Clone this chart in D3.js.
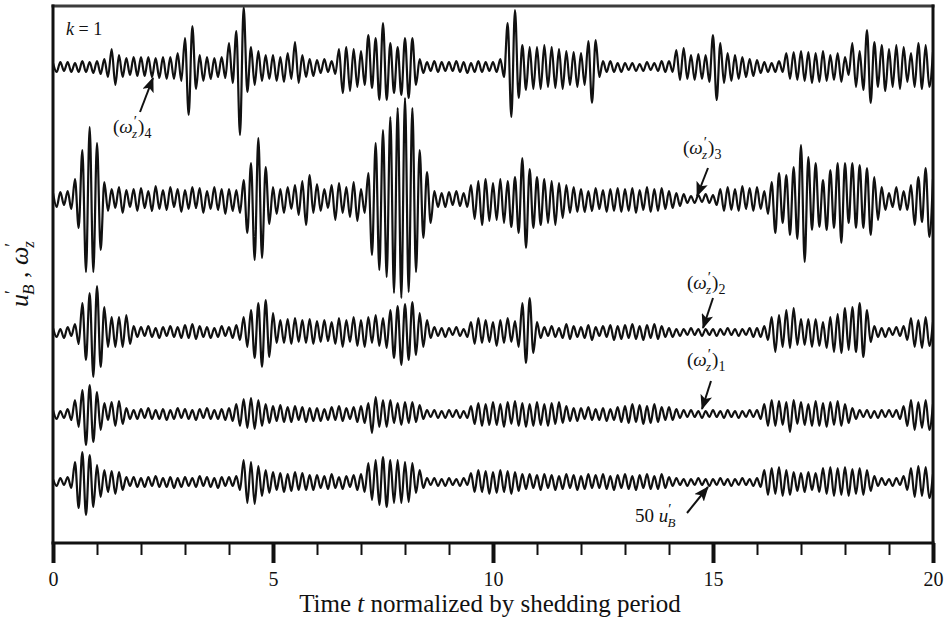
<!DOCTYPE html>
<html><head><meta charset="utf-8">
<script src="https://cdn.jsdelivr.net/npm/d3@7"></script>
<style>
body{margin:0;background:#fff}
svg{display:block}
text{font-family:"Liberation Serif","Times New Roman",Times,"DejaVu Serif",serif;fill:#111}
</style>
</head><body>
<svg id="chart" width="950" height="621"></svg>
<script>
// ---- data (signed extrema; 12 samples per shedding period) ----
const tDomain = [0, 20];
const majorTicks = [0, 5, 10, 15, 20];
const minorTicks = [1, 2, 3, 4, 6, 7, 8, 9, 11, 12, 13, 14, 16, 17, 18, 19];

const omega4 = [
 4,-5,5,-4,5,-5,4,-5,6,-5,5,-6,
 6,-7,8,-10,18,-18,12,-10,9,-8,10,-9,
 10,-9,10,-10,9,-11,10,-12,10,-12,14,-14,
 29,-48,41,-22,12,-14,10,-12,9,-10,10,-11,
 24,-16,36,-68,60,-25,20,-18,16,-14,12,-12,
 12,-14,10,-15,14,-12,25,-16,12,-10,8,-9,
 7,-6,8,-5,6,-7,18,-26,20,-24,18,-20,
 16,-18,32,-21,29,-33,44,-33,24,-26,20,-28,
 29,-31,29,-18,8,-6,5,-4,6,-5,5,-4,
 5,-4,6,-5,5,-6,4,-5,6,-5,5,-4,
 5,-5,8,-10,44,-50,57,-31,22,-23,20,-22,
 20,-22,22,-20,20,-21,18,-22,16,-18,15,-20,
 14,-18,26,-36,27,-10,6,-5,6,-5,4,-5,
 4,-3,4,-4,3,-4,5,-3,4,-4,6,-5,
 6,-5,17,-13,19,-12,12,-13,13,-12,12,-15,
 32,-33,24,-16,14,-14,12,-12,10,-10,8,-9,
 7,-6,5,-5,4,-5,6,-5,14,-12,15,-13,
 16,-14,15,-16,14,-15,16,-14,12,-13,14,-15,
 10,-8,24,-20,16,-23,37,-36,25,-20,22,-24,
 18,-20,22,-22,20,-15,14,-20,24,-22,22,-20,
 15];

const omega3 = [
 6,-8,7,-6,8,-10,20,-29,49,-73,72,-73,
 56,-51,17,-12,10,-9,12,-14,9,-8,10,-12,
 11,-9,8,-12,13,-10,9,-11,12,-8,10,-13,
 9,-10,12,-9,11,-14,8,-10,12,-11,10,-15,
 10,-12,9,-14,19,-34,36,-61,61,-59,32,-25,
 12,-15,10,-14,12,-10,14,-16,18,-26,24,-14,
 15,-12,10,-9,14,-21,16,-14,12,-18,17,-22,
 10,-14,26,-56,56,-71,69,-78,82,-94,91,-99,
 101,-93,91,-73,49,-39,27,-24,8,-8,6,-8,
 7,-6,8,-7,6,-8,14,-20,18,-26,20,-22,
 16,-21,20,-24,18,-28,22,-34,41,-49,30,-29,
 22,-26,20,-24,18,-26,16,-19,14,-14,12,-13,
 10,-13,8,-12,11,-10,9,-13,10,-12,11,-13,
 10,-12,11,-14,9,-11,12,-13,10,-12,11,-10,
 8,-9,6,-7,5,-4,3,-4,4,-3,5,-4,
 4,-6,10,-12,12,-11,10,-12,13,-10,11,-12,
 12,-10,8,-15,17,-34,26,-24,24,-36,32,-40,
 54,-63,42,-31,36,-28,19,-31,29,-29,36,-44,
 36,-24,36,-29,34,-29,31,-36,22,-21,12,-11,
 6,-8,12,-11,8,-11,14,-26,22,-23,31,-38,
 20];

const omega2 = [
 4,-5,3,-6,5,-4,8,-12,29,-28,39,-45,
 46,-35,25,-15,15,-15,15,-15,17,-12,6,-5,
 5,-4,6,-5,4,-6,5,-4,6,-5,5,-6,
 7,-6,8,-7,6,-5,5,-6,4,-5,6,-4,
 5,-6,7,-8,15,-15,22,-26,29,-35,32,-25,
 19,-11,12,-11,13,-12,14,-10,12,-11,13,-12,
 11,-10,12,-9,10,-12,14,-15,12,-10,15,-14,
 12,-15,15,-11,17,-14,14,-16,22,-26,26,-33,
 28,-28,30,-23,19,-15,12,-6,5,-4,4,-5,
 4,-3,5,-4,3,-5,10,-12,14,-11,12,-10,
 10,-14,12,-11,14,-10,11,-15,29,-31,34,-21,
 10,-6,5,-4,6,-5,4,-6,8,-7,6,-5,
 5,-6,7,-8,5,-4,6,-5,7,-8,6,-7,
 7,-6,8,-7,6,-8,7,-6,8,-7,6,-5,
 4,-5,3,-4,3,-3,4,-3,3,-4,3,-3,
 3,-4,3,-3,4,-3,3,-4,3,-3,4,-5,
 4,-5,6,-8,15,-20,17,-15,22,-16,24,-13,
 13,-13,13,-15,13,-14,10,-16,15,-20,18,-21,
 24,-18,25,-20,29,-25,22,-10,6,-5,4,-5,
 4,-3,5,-4,6,-8,14,-15,12,-16,15,-14,
 10];

const omega1 = [
 4,-5,3,-4,5,-6,14,-13,24,-31,29,-28,
 22,-16,11,-6,12,-12,13,-10,6,-5,4,-5,
 5,-4,6,-5,4,-5,5,-6,4,-5,6,-4,
 5,-5,4,-6,5,-4,6,-5,4,-5,5,-6,
 6,-7,10,-12,15,-14,16,-15,14,-12,10,-9,
 8,-7,9,-8,7,-8,8,-6,7,-8,6,-7,
 6,-7,5,-6,7,-6,8,-7,6,-5,7,-8,
 8,-9,11,-19,17,-13,14,-13,14,-9,11,-11,
 12,-9,12,-8,9,-5,4,-3,4,-4,3,-4,
 4,-3,4,-4,3,-4,8,-10,11,-12,10,-11,
 12,-11,10,-13,12,-10,13,-12,11,-13,10,-12,
 12,-11,10,-12,11,-10,12,-9,8,-7,6,-7,
 6,-5,7,-6,5,-6,6,-7,5,-6,7,-8,
 8,-9,10,-8,9,-10,8,-9,10,-8,7,-6,
 7,-6,5,-4,4,-3,4,-3,3,-4,3,-3,
 4,-3,3,-4,4,-3,3,-4,3,-3,4,-3,
 4,-5,10,-12,14,-12,13,-11,12,-18,14,-10,
 12,-11,10,-12,13,-12,11,-13,12,-11,13,-12,
 10,-9,6,-5,4,-3,4,-4,3,-4,4,-3,
 4,-3,4,-5,8,-12,14,-16,12,-14,14,-16,
 10];

const uB50 = [
 3,-4,4,-3,5,-6,20,-26,30,-33,27,-25,
 17,-15,12,-10,11,-12,10,-8,5,-4,5,-5,
 4,-5,5,-4,6,-5,4,-5,5,-6,4,-5,
 5,-4,4,-5,6,-4,5,-5,4,-6,5,-4,
 5,-4,6,-8,22,-21,20,-22,16,-14,12,-11,
 10,-8,9,-10,8,-9,10,-8,9,-8,7,-8,
 7,-6,6,-7,8,-6,5,-7,6,-5,7,-8,
 8,-10,19,-18,22,-23,25,-25,22,-21,22,-21,
 20,-20,19,-11,12,-6,4,-3,4,-4,3,-4,
 4,-3,3,-4,4,-3,9,-10,12,-10,11,-12,
 10,-11,12,-10,11,-12,10,-9,8,-7,8,-6,
 7,-8,8,-6,7,-8,6,-7,8,-6,7,-8,
 6,-7,8,-6,7,-6,8,-7,6,-8,7,-6,
 8,-7,6,-8,7,-6,8,-7,6,-7,8,-6,
 5,-4,4,-3,3,-4,3,-3,4,-3,3,-4,
 3,-3,4,-3,3,-4,3,-3,4,-3,3,-4,
 4,-5,12,-13,14,-12,15,-14,12,-13,10,-9,
 9,-10,10,-8,9,-10,14,-12,15,-14,14,-13,
 15,-14,13,-12,14,-13,12,-9,6,-4,4,-3,
 3,-4,4,-3,6,-8,14,-15,16,-14,15,-16,
 8];

// ---- layout ----
const svg = d3.select("#chart");
const L = 53, R = 933, T = 6, B = 543;
const x = d3.scaleLinear().domain(tDomain).range([L, R]);
const amp = d3.scaleLinear().domain([-100, 100]).range([100, -100]);

const traces = [
  {values: omega4, base: 67},
  {values: omega3, base: 199},
  {values: omega2, base: 332},
  {values: omega1, base: 414},
  {values: uB50, base: 482}
];

const defs = svg.append("defs");
defs.append("clipPath").attr("id", "plotclip").append("rect")
  .attr("x", L).attr("y", T).attr("width", R - L).attr("height", B - T);
defs.append("marker").attr("id", "ah").attr("viewBox", "0 0 15 12")
  .attr("refX", 14).attr("refY", 6).attr("markerWidth", 15).attr("markerHeight", 12)
  .attr("markerUnits", "userSpaceOnUse").attr("orient", "auto")
  .append("path").attr("d", "M0,0 L15,6 L0,12 L3.5,6 Z").attr("fill", "#111");

const line = d3.line().curve(d3.curveMonotoneX);
const plot = svg.append("g").attr("clip-path", "url(#plotclip)");
traces.forEach(tr => {
  const n = tr.values.length;
  const dt = (tDomain[1] - tDomain[0]) / (n - 1);
  plot.append("path")
    .attr("transform", `translate(0,${tr.base})`)
    .attr("d", line(tr.values.map((v, i) => [x(i * dt), amp(v)])))
    .attr("fill", "none").attr("stroke", "#111").attr("stroke-width", 2.2)
    .attr("stroke-linejoin", "round");
});

// frame
svg.append("line").attr("x1", L - 1.5).attr("x2", R + 1.5).attr("y1", T).attr("y2", T)
  .attr("stroke", "#3c3c3c").attr("stroke-width", 3);
svg.append("line").attr("x1", L).attr("x2", L).attr("y1", T - 1.5).attr("y2", B)
  .attr("stroke", "#111").attr("stroke-width", 3);
svg.append("line").attr("x1", R).attr("x2", R).attr("y1", T - 1.5).attr("y2", B)
  .attr("stroke", "#111").attr("stroke-width", 3);

// axes
const minorAxis = d3.axisBottom(x).tickValues(minorTicks).tickSize(12).tickSizeOuter(0).tickFormat("");
const gMinor = svg.append("g").attr("transform", `translate(0,${B})`).call(minorAxis);
gMinor.select(".domain").remove();
gMinor.selectAll(".tick line").attr("stroke", "#111").attr("stroke-width", 2);

const majorAxis = d3.axisBottom(x).tickValues(majorTicks).tickSize(20).tickSizeOuter(0).tickPadding(9).tickFormat(d3.format("d"));
const gMajor = svg.append("g").attr("transform", `translate(0,${B})`).call(majorAxis);
gMajor.attr("font-family", null);
gMajor.select(".domain").attr("stroke", "#111").attr("stroke-width", 3).attr("d", `M${L - 1.5},0H${R + 1.5}`);
gMajor.selectAll(".tick line").attr("stroke", "#111").attr("stroke-width", 4);
gMajor.selectAll(".tick text").attr("font-size", 20).attr("fill", "#111");

// x title
const xt = svg.append("text").attr("x", 490).attr("y", 612).attr("text-anchor", "middle").attr("font-size", 25);
xt.append("tspan").text("Time ");
xt.append("tspan").attr("font-style", "italic").text("t");
xt.append("tspan").text(" normalized by shedding period");

// y title
const yt = svg.append("text").attr("transform", "translate(28,274) rotate(-90)").attr("text-anchor", "middle").attr("font-size", 26);
yt.append("tspan").attr("font-style", "italic").text("u");
yt.append("tspan").attr("font-size", 18).attr("dy", -10).text("′");
yt.append("tspan").attr("font-style", "italic").attr("font-size", 17).attr("dx", -5).attr("dy", 16).text("B");
yt.append("tspan").attr("dy", -6).text(" , ");
yt.append("tspan").attr("font-style", "italic").text("ω");
yt.append("tspan").attr("font-size", 18).attr("dy", -10).text("′");
yt.append("tspan").attr("font-style", "italic").attr("font-size", 17).attr("dx", -5).attr("dy", 16).text("z");

// k = 1
const kt = svg.append("text").attr("x", 66).attr("y", 35).attr("font-size", 18);
kt.append("tspan").attr("font-style", "italic").text("k");
kt.append("tspan").text(" = 1");

// annotations
const omegaLabels = [
  {sub: "4", x: 113, y: 133, from: [140, 112], to: [153, 78]},
  {sub: "3", x: 683, y: 154, from: [708, 168], to: [697, 196]},
  {sub: "2", x: 687, y: 289, from: [713, 298], to: [703, 328]},
  {sub: "1", x: 687, y: 366, from: [711, 381], to: [702, 409]}
];
omegaLabels.forEach(o => {
  const t = svg.append("text").attr("x", o.x).attr("y", o.y).attr("font-size", 19);
  t.append("tspan").text("(");
  t.append("tspan").attr("font-style", "italic").text("ω");
  t.append("tspan").attr("font-size", 15).attr("dy", -7).attr("dx", 1).text("′");
  t.append("tspan").attr("font-style", "italic").attr("font-size", 13).attr("dx", -5).attr("dy", 12).text("z");
  t.append("tspan").attr("dy", -5).attr("dx", 1).text(")");
  t.append("tspan").attr("font-size", 14).attr("dy", 5).text(o.sub);
  svg.append("line").attr("x1", o.from[0]).attr("y1", o.from[1]).attr("x2", o.to[0]).attr("y2", o.to[1])
    .attr("stroke", "#111").attr("stroke-width", 2).attr("marker-end", "url(#ah)");
});

const ub = svg.append("text").attr("x", 635).attr("y", 522).attr("font-size", 19);
ub.append("tspan").text("50 ");
ub.append("tspan").attr("font-style", "italic").text("u");
ub.append("tspan").attr("font-size", 15).attr("dy", -8).text("′");
ub.append("tspan").attr("font-style", "italic").attr("font-size", 13).attr("dx", -4).attr("dy", 13).text("B");
svg.append("line").attr("x1", 687).attr("y1", 513).attr("x2", 708).attr("y2", 487)
  .attr("stroke", "#111").attr("stroke-width", 2).attr("marker-end", "url(#ah)");
</script>
</body></html>
